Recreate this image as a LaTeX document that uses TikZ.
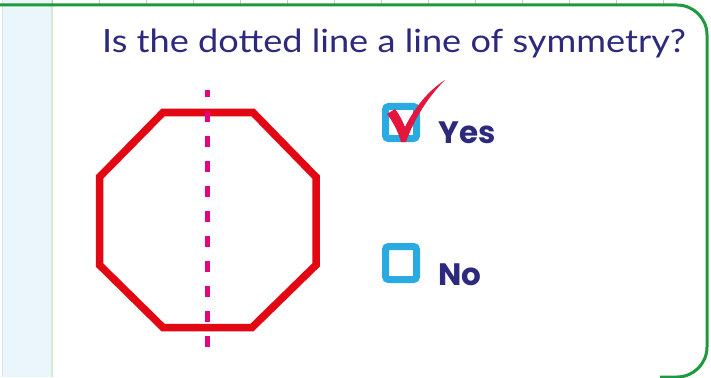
\documentclass[tikz,border=0pt]{standalone}
\usepackage{fontspec}
\setmainfont{Lato}
\newfontfamily\ansfont{Poppins}
\definecolor{frame}{HTML}{1E9A3E}
\definecolor{strip}{HTML}{EBF5FC}
\definecolor{stripline}{HTML}{D2EAD6}
\definecolor{gridc}{HTML}{C8C8C8}
\definecolor{octo}{HTML}{E30613}
\definecolor{axis}{HTML}{E2057E}
\definecolor{boxc}{HTML}{29ABE2}
\definecolor{chk}{HTML}{E3173E}
\definecolor{ink}{HTML}{2D2A7D}
\tikzset{
  optbox/.style={draw=boxc, line width=7pt, rounded corners=3pt},
  answer/.style={anchor=base west, inner sep=0pt, text=ink, font=\ansfont\fontsize{31}{31}\selectfont\bfseries},
}
\begin{document}
\begin{tikzpicture}[x=1pt,y=-1pt]
\useasboundingbox (0,0) rectangle (711,377);
\fill[white] (0,0) rectangle (711,377);
% left strip
\fill[strip] (2,0) rectangle (52,377);
\draw[stripline, line width=1.5pt] (2.5,0) -- (2.5,377) (52,0) -- (52,377);
% grid ticks
\foreach \gx in {52,99,146,193,240,287,334,381,428,475,522,569,616,663}
  \draw[gridc, line width=0.8pt] (\gx,0) -- (\gx,4);
% frame
\draw[frame, line width=3pt] (0,5) -- (677,5) arc[start angle=-90, end angle=0, radius=30]
  -- (707,347) arc[start angle=0, end angle=90, radius=30] -- (660,377);
% title
\node[anchor=base west, inner sep=0pt, text=ink, font=\fontsize{32}{32}\selectfont] (title) at (102,53) {\scalebox{1.13}[1]{Is the dotted line a line of symmetry?}};
% octagon
\draw[octo, line width=7.5pt, miter limit=10] (163,112.5) -- (253,112.5) -- (316,177) -- (316,265) -- (252,327.5) -- (163,327.5) -- (99.5,265) -- (99.5,177) -- cycle;
% axis
\draw[axis, line width=5pt, dash pattern=on 11pt off 14pt, dash phase=4pt] (207,90) -- (207,348);
% checkboxes
\draw[optbox] (385.5,106.5) rectangle (416.5,138.5);
\draw[optbox] (385.5,246.5) rectangle (416.5,279.5);
% check mark
\fill[chk] (387,114) -- (395,109) .. controls (399,114) and (402,120) .. (405,127)
  .. controls (415,107) and (428,91) .. (445,80)
  .. controls (428,97) and (414,119) .. (406,142) -- (401,142)
  .. controls (398,131) and (393,122) .. (387,114) -- cycle;
% answers
\node[answer] (yes) at (438,143) {Yes};
\node[answer] (no) at (438,285) {No};
\end{tikzpicture}
\end{document}
